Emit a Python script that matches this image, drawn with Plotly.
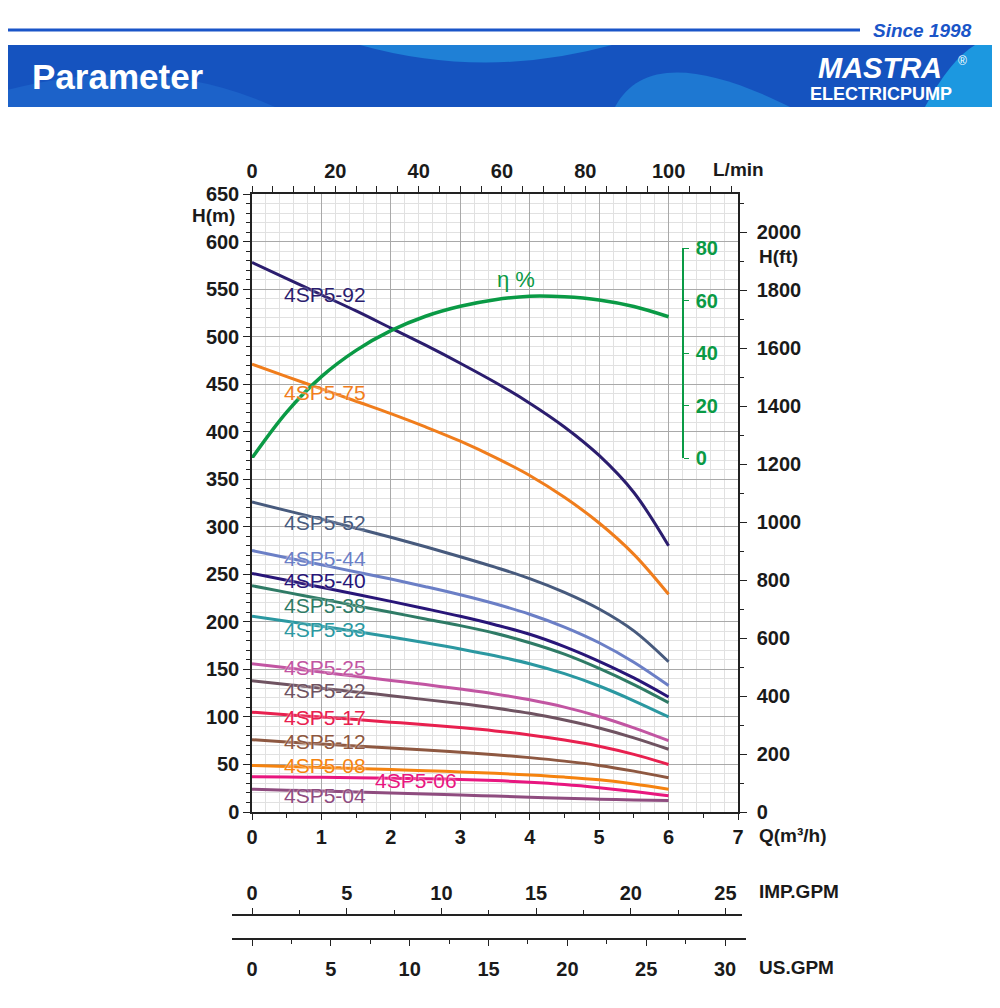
import plotly.graph_objects as go

# ---------------- data ----------------
q = [0, 0.5, 1, 1.5, 2, 2.5, 3, 3.5, 4, 4.5, 5, 5.5, 6]

h_92 = [578, 561, 544, 527, 509, 491, 472, 452, 430, 405, 375, 336, 280]
h_75 = [471, 458, 445, 432, 419, 405, 390, 373, 354, 331, 304, 271, 229]
h_52 = [326, 317, 308, 298.5, 289, 279, 268.5, 257.5, 245.5, 231, 213.5, 190.5, 158]
h_44 = [275, 267.5, 260, 252.5, 245, 237, 228.5, 219, 208, 194.5, 178, 157.5, 133]
h_40 = [251, 243.7, 236.4, 229, 221.5, 213.8, 205.8, 197, 187, 174, 158.5, 141, 121]
h_38 = [238, 231, 224, 217, 210, 203, 196, 188, 178, 166, 151, 134, 115]
h_33 = [206, 200.7, 195.3, 189.8, 184, 178, 171.5, 164.3, 156, 145.5, 132.5, 117, 100]
h_25 = [156, 151.6, 147.2, 142.8, 138.4, 134, 129.3, 124.2, 118, 110.3, 100.5, 88.5, 75]
h_22 = [138, 134.1, 130.2, 126.3, 122.3, 118.2, 114, 109.3, 103.8, 96.7, 88.3, 78, 66]
h_17 = [105, 102.4, 99.8, 97.2, 94.5, 91.8, 88.8, 85.3, 81, 75.7, 69.2, 60.6, 50]
h_12 = [76, 73.7, 71.5, 69.3, 67.2, 65.1, 62.9, 60.3, 57.2, 53.5, 49, 43, 36]
h_08 = [49, 47.9, 46.8, 45.7, 44.6, 43.5, 42.2, 40.7, 38.9, 36.7, 33.8, 29.5, 24]
h_06 = [37, 36.8, 36.5, 36.1, 35.6, 35, 34.2, 33, 31.3, 28.9, 25.6, 21.6, 17]
h_04 = [24, 23, 22, 21, 20, 19, 18, 16.7, 15.5, 14.4, 13.5, 12.7, 12]

q_eff = [0, 0.5, 1, 1.5, 2, 2.5, 3, 3.5, 4, 4.5, 5, 5.5, 6]
eff = [0, 17.5, 31, 41, 48.5, 54, 57.8, 60.3, 61.6, 61.4, 60.2, 57.7, 53.8]

models = ["4SP5-92", "4SP5-75", "4SP5-52", "4SP5-44", "4SP5-40", "4SP5-38", "4SP5-33",
          "4SP5-25", "4SP5-22", "4SP5-17", "4SP5-12", "4SP5-08", "4SP5-06", "4SP5-04"]
heads = [h_92, h_75, h_52, h_44, h_40, h_38, h_33, h_25, h_22, h_17, h_12, h_08, h_06, h_04]
colors = ["#2b1d6e", "#f07d1c", "#475a7d", "#6b7fc6", "#281578", "#2f7b66", "#2b98a1",
          "#c255a2", "#6f5361", "#e8204f", "#8e5841", "#f5830f", "#e8167f", "#8f4c7f"]
# label anchor (Q, H) for each curve name
label_q = [0.43] * 12 + [1.74, 0.43]
label_h = [544, 441, 305, 267, 243, 217, 192, 152, 128, 99, 74, 49, 33, 17]

# unit conversions for the secondary scales
M_TO_FT = 3.28084
M3H_TO_LMIN = 1000 / 60
M3H_TO_IMP = 1000 / 4.54609 / 60
M3H_TO_US = 1000 / 3.785412 / 60

# ---------------- page geometry (page pixels, body has an 8px margin) ----------------
OFF = 8
W, H = 1000 - OFF, 1008 - OFF
PL, PR, PT, PB = 200, 800, 194, 968      # paper box in page pixels
PW, PH = PR - PL, PB - PT


def fx(px):
    return (px - PL) / PW


def fy(py):
    return (PB - py) / PH


X0, X1 = 252, 738        # plot area in page pixels
Y1 = 812
q_per_px = 7 / (X1 - X0)

FONT = "Liberation Sans, Arial, sans-serif"
tick_font = dict(family=FONT, size=20, color="#1a1a1a", weight="bold")
GREEN = "#0a9a45"

fig = go.Figure()

for name, hv, col in zip(models, heads, colors):
    fig.add_trace(go.Scatter(x=q, y=hv, mode="lines", name=name,
                             line=dict(color=col, width=3, shape="spline", smoothing=1)))

fig.add_trace(go.Scatter(x=q_eff, y=eff, mode="lines", name="η %", xaxis="x5", yaxis="y3",
                         line=dict(color=GREEN, width=3.5, shape="spline", smoothing=1)))

annotations = []
for name, lq, lh, col in zip(models, label_q, label_h, colors):
    annotations.append(dict(x=lq, y=lh, xref="x", yref="y", text=name, showarrow=False,
                            xanchor="left", yanchor="middle",
                            font=dict(family=FONT, size=21, color=col,
                                      shadow="0px 0px 2px white")))


def note(text, px, py, size=19, color="#1a1a1a", anchor="center", bold=True, italic=False):
    annotations.append(dict(x=fx(px), y=fy(py), xref="paper", yref="paper", text=text,
                            showarrow=False, xanchor=anchor, yanchor="middle",
                            font=dict(family=FONT, size=size, color=color,
                                      weight="bold" if bold else "normal",
                                      style="italic" if italic else "normal")))


note("H(m)", 213, 216)
note("L/min", 738, 170)
note("H(ft)", 757, 256, anchor="left")
note("Q(m³/h)", 757, 835, anchor="left")
note("IMP.GPM", 757, 891, anchor="left")
note("US.GPM", 757, 967, anchor="left")
note("η %", 516, 279, size=22, color=GREEN, bold=False)

# header
note("Since 1998", 922, 31, size=19, color="#1a55c8", italic=True)
note("Parameter", 30, 77, size=35, color="white", anchor="left")
note("MASTRA", 880, 68, size=29, color="white", italic=True)
note("ELECTRICPUMP", 881, 94, size=18, color="white")
note("®", 962, 61, size=12, color="white", bold=False)


def path_px(cmds):
    out = []
    for c in cmds:
        if isinstance(c, str):
            out.append(c)
        else:
            out.append(f"{fx(c[0]):.4f},{fy(c[1]):.4f}")
    return " ".join(out)


shapes = [
    dict(type="line", xref="paper", yref="paper", x0=fx(0), x1=fx(860), y0=fy(30), y1=fy(30),
         line=dict(color="#1a55c8", width=3)),
    dict(type="rect", xref="paper", yref="paper", x0=fx(0), x1=fx(1000), y0=fy(107), y1=fy(45),
         fillcolor="#1553bf", line=dict(width=0)),
    dict(type="path", xref="paper", yref="paper", line=dict(width=0), fillcolor="#1c62c9",
         path=path_px(["M", (0, 107), "L", (0, 92), "Q", (150, 50), (275, 107), "Z"])),
    dict(type="path", xref="paper", yref="paper", line=dict(width=0), fillcolor="#1f80d6",
         path=path_px(["M", (360, 45), "Q", (485, 80), (612, 45), "Z"])),
    dict(type="path", xref="paper", yref="paper", line=dict(width=0), fillcolor="#1e78d2",
         path=path_px(["M", (615, 107), "C", (640, 60), (700, 62), (790, 107), "Z"])),
    dict(type="path", xref="paper", yref="paper", line=dict(width=0), fillcolor="#1c98e0",
         path=path_px(["M", (925, 107), "Q", (950, 60), (975, 45), "L", (1000, 45),
                       "L", (1000, 107), "Z"])),
]

axis_line = dict(showline=True, linecolor="#222", linewidth=1.5)

fig.update_layout(
    width=W, height=H,
    margin=dict(l=PL - OFF, r=W - (PR - OFF), t=PT - OFF, b=H - (PB - OFF)),
    paper_bgcolor="white", plot_bgcolor="rgba(0,0,0,0)",
    showlegend=False,
    annotations=annotations,
    shapes=shapes,
    xaxis=dict(domain=[fx(X0), fx(X1)], range=[0, 7], dtick=1, anchor="y",
               tickfont=tick_font, ticks="outside", ticklen=6, tickcolor="#222",
               showgrid=True, gridcolor="#a9a9a9", gridwidth=1,
               minor=dict(dtick=0.2, showgrid=True, gridcolor="#e1e1e1", ticks=""),
               zeroline=False, **axis_line),
    yaxis=dict(domain=[fy(Y1), 1], range=[0, 650], dtick=50, anchor="x",
               tickfont=tick_font, ticks="outside", ticklen=7, tickcolor="#222",
               showgrid=True, gridcolor="#a9a9a9", gridwidth=1,
               minor=dict(dtick=10, showgrid=True, gridcolor="#e1e1e1", ticks="outside",
                          ticklen=4, tickcolor="#222"),
               zeroline=False, **axis_line),
    # L/min across the top
    xaxis2=dict(overlaying="x", side="top", anchor="y", range=[0, 7 * M3H_TO_LMIN], dtick=20,
                tickfont=tick_font, ticks="outside", ticklen=6, tickcolor="#222",
                minor=dict(dtick=5, ticks="outside", ticklen=6, tickcolor="#222"),
                showgrid=False, zeroline=False, **axis_line),
    # half-unit ticks on Q
    xaxis6=dict(overlaying="x", side="bottom", anchor="y", range=[0, 7], dtick=0.5,
                showticklabels=False, ticks="outside", ticklen=5, tickcolor="#222",
                showgrid=False, zeroline=False),
    # H in feet on the right
    yaxis2=dict(overlaying="y", side="right", anchor="x", range=[0, 650 * M_TO_FT], dtick=200,
                tickfont=tick_font, ticks="outside", ticklen=7, tickcolor="#222",
                ticklabelstandoff=6,
                minor=dict(dtick=100, ticks="outside", ticklen=4, tickcolor="#222"),
                showgrid=False, zeroline=False, **axis_line),
    # efficiency scale
    xaxis5=dict(domain=[fx(X0), fx(X1)], range=[0, 7], anchor="y3", visible=False),
    yaxis3=dict(domain=[fy(458), fy(248)], range=[0, 80], dtick=20, anchor="free",
                position=fx(683), side="right",
                tickfont=dict(family=FONT, size=20, color=GREEN, weight="bold"),
                ticks="outside", ticklen=5, tickcolor=GREEN, ticklabelstandoff=3,
                showline=True, linecolor=GREEN, linewidth=1.5,
                showgrid=False, zeroline=False),
    # GPM scales under the chart
    yaxis4=dict(domain=[fy(938), fy(916)], range=[0, 1], visible=False, anchor="x3"),
    xaxis3=dict(domain=[fx(232), fx(742)], anchor="y4", side="top",
                range=[(232 - X0) * q_per_px * M3H_TO_IMP, (742 - X0) * q_per_px * M3H_TO_IMP],
                tick0=0, dtick=5, tickfont=tick_font, ticks="outside", ticklen=6,
                tickcolor="#222",
                minor=dict(dtick=2.5, ticks="outside", ticklen=4, tickcolor="#222"),
                showgrid=False, zeroline=False, **axis_line),
    xaxis4=dict(domain=[fx(232), fx(746)], anchor="y4", side="bottom",
                range=[(232 - X0) * q_per_px * M3H_TO_US, (746 - X0) * q_per_px * M3H_TO_US],
                tick0=0, dtick=5, tickfont=tick_font, ticks="outside", ticklen=6,
                tickcolor="#222", ticklabelstandoff=6,
                minor=dict(dtick=2.5, ticks="outside", ticklen=4, tickcolor="#222"),
                showgrid=False, zeroline=False, **axis_line),
)

# empty traces so the extra scales get their own subplots
for xa, ya in [("x2", "y2"), ("x6", "y2"), ("x3", "y4"), ("x4", "y4")]:
    fig.add_trace(go.Scatter(x=[], y=[], xaxis=xa, yaxis=ya, showlegend=False, hoverinfo="skip"))

fig.write_html("out.html")
